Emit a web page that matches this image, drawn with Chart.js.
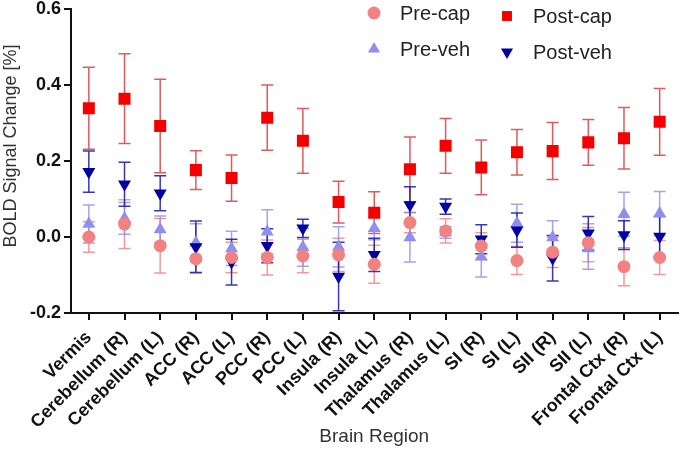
<!DOCTYPE html>
<html>
<head>
<meta charset="utf-8">
<script src="https://cdn.jsdelivr.net/npm/chart.js@4"></script>
<style>
  body { margin: 0; background: #fff; }
  #wrap { width: 686px; height: 453px; position: relative; }
</style>
</head>
<body>
<div id="wrap"><canvas id="boldChart"></canvas></div>
<script>
// datos
const regions = ["Vermis", "Cerebellum (R)", "Cerebellum (L)", "ACC (R)", "ACC (L)", "PCC (R)", "PCC (L)",
  "Insula (R)", "Insula (L)", "Thalamus (R)", "Thalamus (L)", "SI (R)", "SI (L)", "SII (R)", "SII (L)",
  "Frontal Ctx (R)", "Frontal Ctx (L)"];
const seriesNames = ["Pre-cap", "Post-cap", "Pre-veh", "Post-veh"];

const preCap = [0.000, 0.034, -0.023, -0.057, -0.054, -0.054, -0.050, -0.047, -0.072, 0.038, 0.016, -0.024, -0.062, -0.040, -0.015, -0.078, -0.054];
const preCapErr = [0.040, 0.064, 0.072, 0.035, 0.040, 0.046, 0.044, 0.044, 0.050, 0.027, 0.032, 0.035, 0.037, 0.040, 0.050, 0.050, 0.045];
const postCap = [0.339, 0.364, 0.292, 0.176, 0.155, 0.314, 0.253, 0.092, 0.064, 0.178, 0.240, 0.183, 0.223, 0.226, 0.249, 0.260, 0.303];
const postCapErr = [0.108, 0.118, 0.123, 0.051, 0.061, 0.086, 0.085, 0.055, 0.055, 0.085, 0.072, 0.072, 0.060, 0.075, 0.060, 0.081, 0.088];
const preVeh = [0.034, 0.049, 0.020, -0.015, -0.030, 0.014, -0.027, -0.026, 0.023, -0.001, 0.012, -0.052, 0.036, -0.001, -0.030, 0.060, 0.062];
const preVehErr = [0.050, 0.042, 0.035, 0.050, 0.045, 0.058, 0.050, 0.053, 0.030, 0.065, 0.015, 0.053, 0.050, 0.044, 0.055, 0.058, 0.058];
const postVeh = [0.172, 0.139, 0.115, -0.026, -0.066, -0.023, 0.023, -0.104, -0.047, 0.084, 0.080, -0.006, 0.018, -0.056, 0.010, 0.005, 0.001];
const postVehErr = [0.054, 0.058, 0.046, 0.068, 0.060, 0.045, 0.024, 0.090, 0.044, 0.048, 0.020, 0.038, 0.045, 0.060, 0.044, 0.038, 0.053];

const yTicks = [-0.2, 0.0, 0.2, 0.4, 0.6];

const FONT = "Arial, 'Liberation Sans', sans-serif";

// barras de error dibujadas con la escala y del propio grafico
const errorBarsPlugin = {
  id: "errorBars",
  beforeDatasetsDraw(chart) {
    const ctx = chart.ctx;
    const yScale = chart.scales.y;
    chart.data.datasets.forEach((ds, i) => {
      const meta = chart.getDatasetMeta(i);
      if (meta.hidden) return;
      ctx.save();
      ctx.strokeStyle = ds.errorColor;
      ctx.lineWidth = 1.5;
      meta.data.forEach((pt, j) => {
        const v = ds.data[j];
        const e = ds.errors[j];
        const top = yScale.getPixelForValue(v + e);
        const bot = yScale.getPixelForValue(v - e);
        ctx.beginPath();
        ctx.moveTo(pt.x, top);
        ctx.lineTo(pt.x, bot);
        ctx.moveTo(pt.x - 6, top);
        ctx.lineTo(pt.x + 6, top);
        ctx.moveTo(pt.x - 6, bot);
        ctx.lineTo(pt.x + 6, bot);
        ctx.stroke();
      });
      ctx.restore();
    });
  }
};

// leyenda en 2x2 arriba a la derecha
const legendPlugin = {
  id: "gridLegend",
  afterDraw(chart) {
    const ctx = chart.ctx;
    const slots = { "Pre-cap": [374, 13], "Post-cap": [507, 16], "Pre-veh": [374, 49], "Post-veh": [507, 52] };
    chart.data.datasets.forEach((ds) => {
      const pos = slots[ds.label];
      ctx.save();
      ctx.fillStyle = ds.backgroundColor;
      ctx.strokeStyle = ds.backgroundColor;
      Chart.helpers.drawPoint(ctx, {
        pointStyle: ds.pointStyle,
        rotation: ds.pointRotation || 0,
        radius: ds.legendRadius,
        borderWidth: 0
      }, pos[0], pos[1]);
      ctx.fillStyle = "#222";
      ctx.font = "20px " + FONT;
      ctx.textBaseline = "middle";
      ctx.fillText(ds.label, pos[0] + 26, pos[1] + 1);
      ctx.restore();
    });
  }
};

const ctx = document.getElementById("boldChart").getContext("2d");
new Chart(ctx, {
  type: "line",
  data: {
    labels: regions,
    datasets: [
      { label: seriesNames[0], data: preCap, errors: preCapErr, order: 2,
        pointStyle: "circle", pointRadius: 6.5, legendRadius: 6.5,
        backgroundColor: "#f28282", borderColor: "#f28282", errorColor: "rgba(236,120,120,0.75)" },
      { label: seriesNames[1], data: postCap, errors: postCapErr, order: 1,
        pointStyle: "rect", pointRadius: 8.5, legendRadius: 7,
        backgroundColor: "#f40000", borderColor: "#f40000", errorColor: "rgba(215,50,50,0.8)" },
      { label: seriesNames[2], data: preVeh, errors: preVehErr, order: 4,
        pointStyle: "triangle", pointRadius: 7.5, legendRadius: 7,
        backgroundColor: "#8f8ff0", borderColor: "#8f8ff0", errorColor: "rgba(140,140,235,0.8)" },
      { label: seriesNames[3], data: postVeh, errors: postVehErr, order: 3,
        pointStyle: "triangle", pointRotation: 180, pointRadius: 7.5, legendRadius: 7,
        backgroundColor: "#0000a6", borderColor: "#0000a6", errorColor: "rgba(20,20,170,0.85)" }
    ].map((d) => Object.assign({ showLine: false, pointBorderWidth: 0, pointHoverRadius: d.pointRadius }, d))
  },
  options: {
    responsive: true,
    maintainAspectRatio: false,
    animation: false,
    layout: { padding: { top: 9, right: 3, left: 0, bottom: 0 } },
    plugins: { legend: { display: false }, tooltip: { enabled: false } },
    scales: {
      x: {
        type: "category",
        offset: true,
        grid: { offset: false, drawOnChartArea: false, drawTicks: true, tickLength: 7, color: "#111", lineWidth: 2 },
        border: { display: true, color: "#111", width: 2 },
        ticks: {
          autoSkip: false, minRotation: 45, maxRotation: 45, padding: 7,
          color: "#111", font: { family: FONT, size: 18, weight: "bold" }
        },
        title: {
          display: true, text: "Brain Region", color: "#333",
          font: { family: FONT, size: 19 }, padding: { top: 0, bottom: 5 }
        },
        afterFit(scale) { scale.height = 140; }
      },
      y: {
        min: yTicks[0],
        max: yTicks[yTicks.length - 1],
        afterBuildTicks(scale) { scale.ticks = yTicks.map((v) => ({ value: v })); },
        grid: { drawOnChartArea: false, drawTicks: true, tickLength: 7, color: "#111", lineWidth: 2 },
        border: { display: true, color: "#111", width: 2 },
        ticks: {
          padding: 3, color: "#111", font: { family: FONT, size: 18, weight: "bold" },
          callback: (v) => (Math.abs(v) < 1e-9 ? "0.0" : Number(v).toFixed(1))
        },
        title: {
          display: true, text: "      BOLD Signal Change [%]", color: "#333",
          font: { family: FONT, size: 18 }, padding: { top: 0, bottom: 0 }
        },
        afterFit(scale) {
          scale.width = 71;
          // el 0.6 queda casi pegado al borde superior
          scale.paddingTop = 0;
          scale.paddingBottom = 0;
        }
      }
    }
  },
  plugins: [errorBarsPlugin, legendPlugin]
});
</script>
</body>
</html>
